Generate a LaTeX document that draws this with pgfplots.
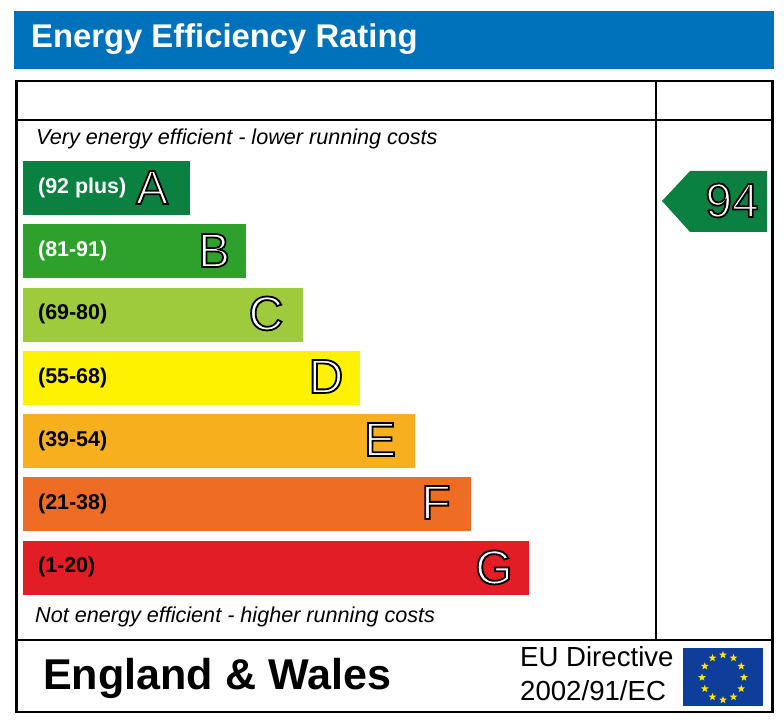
\documentclass[border=0pt]{standalone}
\usepackage{pgfplots}
\pgfplotsset{compat=1.18}
\usepackage{fontspec}
\setmainfont{Liberation Sans}
\usetikzlibrary{shapes.geometric}
\definecolor{bannerblue}{HTML}{0072BC}
\definecolor{ra}{HTML}{0A8140}
\definecolor{rb}{HTML}{2EA12D}
\definecolor{rc}{HTML}{9DCB3C}
\definecolor{rd}{HTML}{FFF200}
\definecolor{re}{HTML}{F7AF1D}
\definecolor{rf}{HTML}{EF6C25}
\definecolor{rg}{HTML}{E31D25}
\definecolor{flagblue}{HTML}{0F3E9A}
\definecolor{flagstar}{HTML}{FFE500}
\newcommand{\outl}[1]{\textcolor{white}{\special{pdf:code q 2 Tr 1.8 w 0 0 0 RG}#1\special{pdf:code Q}}}
\begin{document}
\begin{tikzpicture}[x=1pt,y=1pt]
\path[use as bounding box] (0,0) rectangle (784,722);
\fill[bannerblue] (14,{722-11}) rectangle (774,{722-69});
\node[anchor=base west,inner sep=0,text=white,font=\bfseries\fontsize{32.8}{33}\selectfont] at (31,{722-48}) {Energy Efficiency Rating};
\begin{axis}[at={(0,0)},anchor=south west,scale only axis,width=784pt,height=722pt,
  xmin=-23,xmax=761,ymin=0,ymax=722,y dir=reverse,hide axis,clip=false,
  xbar,bar width=54pt,bar shift=0pt]
\addplot[fill=ra,draw=none] coordinates {(167,188)};
\addplot[fill=rb,draw=none] coordinates {(223,251)};
\addplot[fill=rc,draw=none] coordinates {(280,315)};
\addplot[fill=rd,draw=none] coordinates {(337,378)};
\addplot[fill=re,draw=none] coordinates {(392,441)};
\addplot[fill=rf,draw=none] coordinates {(448,504)};
\addplot[fill=rg,draw=none] coordinates {(506,568)};
\end{axis}
% frame
\draw[black,line width=2.4pt] (16.5,{722-81}) rectangle (772.5,{722-712});
\draw[black,line width=2.4pt] (16.5,{722-120}) -- (772.5,{722-120});
\draw[black,line width=2.4pt] (16.5,{722-640}) -- (772.5,{722-640});
\draw[black,line width=2.4pt] (656,{722-81}) -- (656,{722-640});
\node[anchor=base west,inner sep=0,font=\itshape\fontsize{21.6}{22}\selectfont] at (36,{722-145}) {Very energy efficient - lower running costs};
\node[anchor=base west,inner sep=0,font=\itshape\fontsize{21.6}{22}\selectfont] at (35,{722-623}) {Not energy efficient - higher running costs};
% ranges
\foreach \t/\y/\c in {(92 plus)/194/white,(81-91)/257/white,(69-80)/320/black,(55-68)/384/black,(39-54)/447/black,(21-38)/510/black,(1-20)/573/black}{
  \node[anchor=base west,inner sep=0,text=\c,font=\bfseries\fontsize{21.4}{22}\selectfont] at (38,{722-\y}) {\t};
}
% letters
\foreach \t/\x/\y in {A/152/204,B/214/267,C/266/330,D/326/393,E/380/456,F/436/519,G/494/584}{
  \node[anchor=base,inner sep=0,font=\fontsize{48}{48}\selectfont] at (\x,{722-\y}) {\outl{\t}};
}
% current rating arrow
\fill[ra] (662,{722-201}) -- (690,{722-171}) -- (767,{722-171}) -- (767,{722-232}) -- (690,{722-232}) -- cycle;
\node[anchor=base,inner sep=0,font=\fontsize{48}{48}\selectfont] at (732,{722-217}) {\outl{94}};
% footer
\node[anchor=base west,inner sep=0,font=\bfseries\fontsize{43.1}{44}\selectfont] at (43,{722-690}) {England \& Wales};
\node[anchor=base west,inner sep=0,font=\fontsize{27.6}{28}\selectfont] at (520,{722-667}) {EU Directive};
\node[anchor=base west,inner sep=0,font=\fontsize{27.6}{28}\selectfont] at (520,{722-701}) {2002/91/EC};
% flag
\fill[flagblue] (683,{722-648}) rectangle (763,{722-706});
\foreach \a in {0,30,...,330}{
  \node[star,star points=5,star point ratio=2.4,fill=flagstar,draw=none,inner sep=0,minimum size=8pt] at ({723+21*cos(\a)},{722-677.5+22.5*sin(\a)}) {};
}
\end{tikzpicture}
\end{document}
